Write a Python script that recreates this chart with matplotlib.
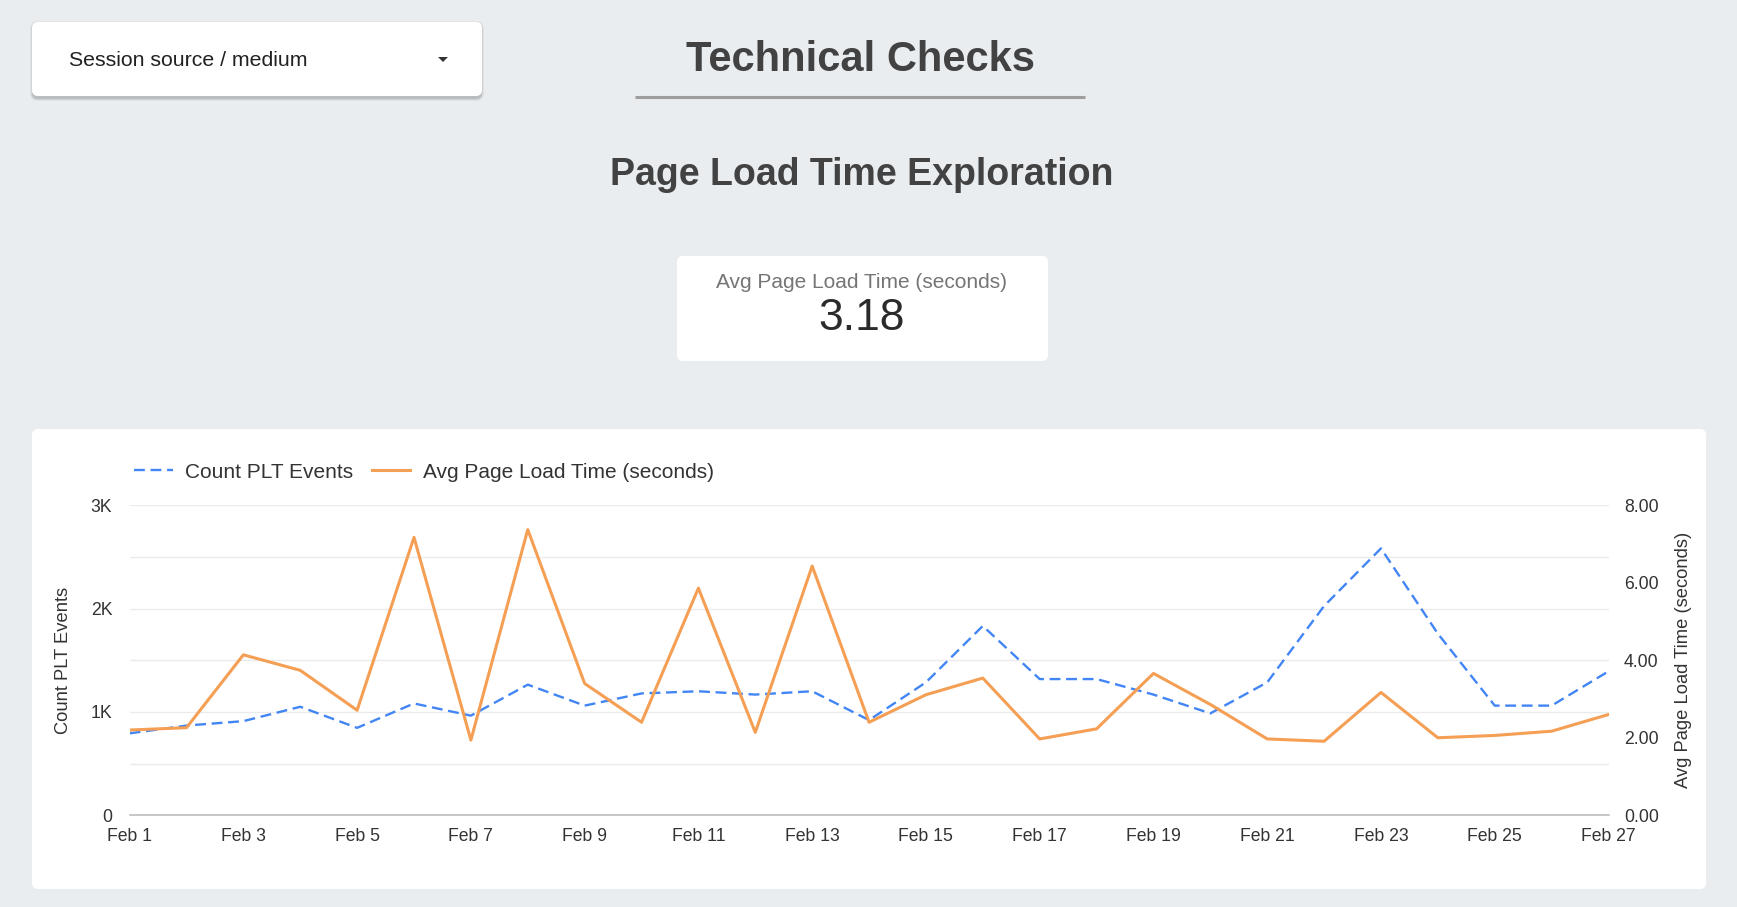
import numpy as np
import matplotlib.pyplot as plt
from matplotlib.patches import FancyBboxPatch, Polygon
from matplotlib.lines import Line2D

plt.rcParams['font.family'] = ['Liberation Sans', 'DejaVu Sans']

# data
days = [1, 2, 3, 4, 5, 6, 7, 8, 9, 10, 11, 12, 13, 14, 15, 16, 17, 18, 19, 20,
        21, 22, 23, 24, 25, 26, 27]
count_plt = [793, 868, 911, 1050, 846, 1082, 964, 1264, 1061, 1179, 1200, 1168,
             1200, 921, 1286, 1832, 1318, 1318, 1168, 986, 1286, 2025, 2582,
             1757, 1061, 1061, 1393]
avg_plt = [2.20, 2.26, 4.14, 3.74, 2.71, 7.17, 1.94, 7.37, 3.40, 2.40, 5.86, 2.14,
           6.43, 2.40, 3.11, 3.54, 1.97, 2.23, 3.66, 2.86, 1.97, 1.91, 3.17, 2.00,
           2.06, 2.17, 2.60]
tick_days = [1, 3, 5, 7, 9, 11, 13, 15, 17, 19, 21, 23, 25, 27]
tick_labels = ['Feb 1', 'Feb 3', 'Feb 5', 'Feb 7', 'Feb 9', 'Feb 11', 'Feb 13',
               'Feb 15', 'Feb 17', 'Feb 19', 'Feb 21', 'Feb 23', 'Feb 25', 'Feb 27']
score_label = 'Avg Page Load Time (seconds)'
score_value = '3.18'

W, H = 1737, 907
BG = '#e9edf0'
DARK = '#424242'
BLUE = '#4285f4'
ORANGE = '#f59f55'

fig = plt.figure(figsize=(W / 100, H / 100), dpi=100, facecolor=BG)

# pixel-space layer for the page furniture
bg = fig.add_axes([0, 0, 1, 1])
bg.set_xlim(0, W)
bg.set_ylim(H, 0)
bg.axis('off')

def card(x0, y0, x1, y1, r=6, shadow=False):
    if shadow:
        for i, a in enumerate([0.10, 0.07, 0.04]):
            bg.add_patch(FancyBboxPatch((x0 - i, y0 + 1 - i), x1 - x0 + 2 * i, y1 - y0 + 2 + 2 * i,
                                        boxstyle='round,pad=0,rounding_size=%d' % (r + i),
                                        fc='black', ec='none', alpha=a, zorder=1))
    bg.add_patch(FancyBboxPatch((x0, y0), x1 - x0, y1 - y0,
                                boxstyle='round,pad=0,rounding_size=%d' % r,
                                fc='white', ec='none', zorder=2))

# dropdown control
card(32, 22, 482, 96, shadow=True)
bg.text(69, 61, 'Session source / medium', fontsize=15.3, color='#212121',
        va='center', ha='left', zorder=3)
bg.add_patch(Polygon([[438, 57], [448, 57], [443, 62]], closed=True,
                     fc='#333333', ec='none', zorder=3))

# headings
bg.text(861, 60, 'Technical Checks', fontsize=30, fontweight='bold', color=DARK,
        ha='center', va='center')
bg.plot([635, 1085], [96.5, 96.5], color='#9e9e9e', lw=2.2, solid_capstyle='butt')
bg.text(862, 175, 'Page Load Time Exploration', fontsize=27, fontweight='bold',
        color=DARK, ha='center', va='center')

# scorecard
card(677, 256, 1048, 361)
bg.text(862, 282, score_label, fontsize=15, color='#757575', ha='center', va='center', zorder=3)
bg.text(862, 319, score_value, fontsize=32, color='#2b2b2b', ha='center', va='center', zorder=3)

# chart card
card(32, 429, 1706, 889)

# chart
L, R, T, B = 129.6, 1608.5, 505.2, 815.3
ax = fig.add_axes([L / W, 1 - B / H, (R - L) / W, (B - T) / H])
ax.set_facecolor('none')
ax2 = ax.twinx()

ax.plot(days, count_plt, color=BLUE, lw=1.7, linestyle=(0, (4.6, 2.4)), zorder=3)
ax2.plot(days, avg_plt, color=ORANGE, lw=2.2, zorder=3)

ax.set_xlim(days[0], days[-1])
ax.set_ylim(0, 3000)
ax2.set_ylim(0, 8)

ax.set_yticks([0, 500, 1000, 1500, 2000, 2500, 3000])
ax.set_yticklabels(['0', '', '1K', '', '2K', '', '3K'])
ax2.set_yticks([0, 2, 4, 6, 8])
ax2.set_yticklabels(['0.00', '2.00', '4.00', '6.00', '8.00'])
ax.set_xticks(tick_days)
ax.set_xticklabels(tick_labels)

ax.grid(axis='y', color='#ebebeb', lw=1)
ax.set_axisbelow(True)
for a in (ax, ax2):
    for s in a.spines.values():
        s.set_visible(False)
ax.spines['bottom'].set_visible(True)
ax.spines['bottom'].set_color('#bdbdbd')
ax.spines['bottom'].set_linewidth(1.2)

ax.tick_params(axis='x', length=0, pad=9, labelsize=12.7, labelcolor='#333333')
ax.tick_params(axis='y', length=0, pad=12.5, labelsize=12.7, labelcolor='#333333')
ax2.tick_params(axis='y', length=0, pad=11, labelsize=12.7, labelcolor='#333333')

ax.set_ylabel('Count PLT Events', fontsize=13.2, color='#333333')
ax.yaxis.set_label_coords((72 - L) / (R - L), 0.5)
ax2.set_ylabel('Avg Page Load Time (seconds)', fontsize=13.2, color='#333333', rotation=90)
ax2.yaxis.set_label_coords((1675 - L) / (R - L), 0.5)

handles = [Line2D([], [], color=BLUE, lw=1.7, linestyle=(0, (4.6, 2.4))),
           Line2D([], [], color=ORANGE, lw=2.2)]
fig.legend(handles, ['Count PLT Events', 'Avg Page Load Time (seconds)'],
           loc='center left', bbox_to_anchor=(134 / W, 1 - 472 / H), ncol=2,
           frameon=False, fontsize=15.0, handlelength=1.85, handletextpad=0.6,
           columnspacing=0.9, borderpad=0, borderaxespad=0, labelcolor='#333333')

fig.savefig('out.png', dpi=100, facecolor=BG)
